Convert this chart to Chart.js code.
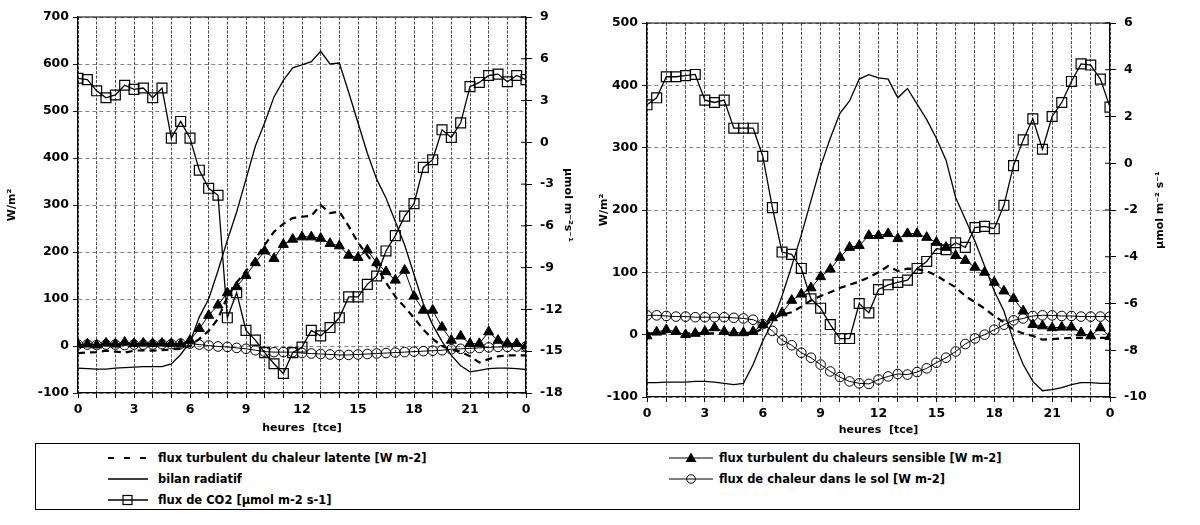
<!DOCTYPE html>
<html>
<head>
<meta charset="utf-8">
<script src="https://cdn.jsdelivr.net/npm/chart.js@4/dist/chart.umd.min.js"></script>
<style>
  body { margin: 0; background: #fff; }
  #wrap { position: relative; width: 1200px; height: 525px; overflow: hidden; font-family: "DejaVu Sans", sans-serif; }
  canvas { position: absolute; top: 0; }
  #left { left: 0; }
  #right { left: 590px; }
  #legend { position: absolute; left: 35px; top: 443px; width: 1045px; height: 67px; border: 1px solid #000; box-sizing: border-box; }
  .item { position: absolute; height: 14px; font-size: 11.5px; font-weight: bold; line-height: 14px; white-space: nowrap; color: #000; }
  .item svg { position: absolute; top: 0; }
</style>
</head>
<body>
<div id="wrap">
  <canvas id="left" width="590" height="440"></canvas>
  <canvas id="right" width="610" height="440"></canvas>
  <div id="legend"></div>
</div>
<script>
const HOURS = [0, 0.5, 1, 1.5, 2, 2.5, 3, 3.5, 4, 4.5, 5, 5.5, 6, 6.5, 7, 7.5, 8, 8.5, 9, 9.5, 10, 10.5, 11, 11.5,
  12, 12.5, 13, 13.5, 14, 14.5, 15, 15.5, 16, 16.5, 17, 17.5, 18, 18.5, 19, 19.5, 20, 20.5, 21, 21.5, 22, 22.5, 23, 23.5, 24];
const X_TICK_HOURS = [0, 3, 6, 9, 12, 15, 18, 21, 24];
const X_TICK_TEXT = ['0', '3', '6', '9', '12', '15', '18', '21', '0'];

const LABELS = [
  'flux turbulent du chaleur latente [W m-2]',
  'bilan radiatif',
  'flux de CO2 [µmol m-2 s-1]',
  'flux turbulent du chaleurs sensible [W m-2]',
  'flux de chaleur dans le sol [W m-2]'
];

// panneau de gauche (W/m2, CO2 en µmol)
const LEFT_LATENT = [-15, -14, -13, -10, -12, -14, -10, -9, -10, -9, -7, -6, 0, 15, 32, 58, 105, 135, 160, 185, 215, 243, 260, 272,
  275, 277, 300, 283, 286, 255, 220, 193, 168, 135, 105, 83, 60, 35, 15, 0, -8, -12, -22, -35, -28, -22, -20, -20, -20];
const LEFT_BILAN = [-47, -48, -49, -49, -47, -46, -45, -44, -44, -44, -38, -18, 8, 62, 100, 160, 225, 285, 355, 425, 475, 530, 565, 592,
  598, 605, 627, 600, 602, 540, 475, 410, 355, 315, 265, 215, 152, 90, 45, 10, -20, -42, -55, -52, -48, -47, -47, -48, -50];
const LEFT_CO2 = [4.6, 4.5, 3.7, 3.2, 3.4, 4.1, 3.8, 3.9, 3.2, 3.9, 0.3, 1.5, 0.3, -2.0, -3.3, -3.8, -12.6, -10.8, -13.5, -14.2, -15.1, -15.9, -16.6, -15.1,
  -14.7, -13.5, -13.9, -13.3, -12.6, -11.1, -11.1, -10.2, -9.6, -7.8, -6.7, -5.3, -4.4, -1.8, -1.25, 0.9, 0.35, 1.4, 4.0, 4.3, 4.8, 4.9, 4.35, 4.8, 4.5];
const LEFT_SENSIBLE = [3, 4, 2, 6, 4, 8, 5, 6, 5, 6, 5, 4, 12, 37, 65, 87, 113, 126, 150, 177, 202, 186, 216, 227,
  232, 232, 229, 218, 213, 193, 188, 204, 177, 158, 140, 161, 106, 76, 76, 40, 12, 21, 5, 5, 30, 12, 6, 5, 0];
const LEFT_SOL = [3, 3, 2, 3, 3, 2, 3, 3, 3, 4, 4, 5, 5, 3, 1, -1, -2, -4, -6, -9, -12, -13, -13, -13,
  -15, -16, -17, -18, -19, -19, -18, -17, -16, -15, -14, -13, -12, -11, -10, -9, -7, -6, -5, -4, -3, -2, -2, -1, -1];

// panneau de droite
const RIGHT_LATENT = [2, 2, 2, 2, 2, 2, 2, 2, 2, 2, 2, 2, 10, 25, 32, 36, 45, 55, 62, 68, 75, 80, 85, 92,
  100, 110, 102, 106, 105, 102, 95, 85, 76, 62, 52, 42, 30, 20, 8, 2, -2, -8, -7, -6, -5, -5, -5, -5, -5];
const RIGHT_BILAN = [-77, -77, -76, -76, -76, -75, -75, -76, -78, -80, -78, -48, -10, 20, 62, 110, 160, 215, 270, 315, 355, 375, 410, 417,
  412, 410, 380, 395, 370, 345, 315, 280, 220, 185, 150, 110, 70, 38, -10, -48, -75, -90, -88, -85, -80, -77, -77, -78, -78];
const RIGHT_CO2 = [2.5, 2.8, 3.7, 3.7, 3.75, 3.8, 2.7, 2.6, 2.7, 1.5, 1.5, 1.5, 0.3, -1.9, -3.8, -3.9, -4.5, -5.8, -6.2, -6.9, -7.5, -7.5, -6.0, -6.4,
  -5.4, -5.2, -5.1, -5.0, -4.5, -4.2, -3.65, -3.7, -3.4, -3.6, -2.75, -2.7, -2.8, -1.8, -0.1, 1.0, 1.9, 0.6, 2.0, 2.6, 3.5, 4.25, 4.2, 3.6, 2.4];
const RIGHT_SENSIBLE = [-2, 4, 8, 5, 0, 2, 5, 11, 5, 3, 3, 5, 16, 27, 35, 55, 65, 75, 93, 105, 124, 140, 143, 159,
  159, 162, 154, 162, 162, 156, 148, 140, 127, 119, 108, 100, 84, 70, 58, 38, 16, 14, 11, 12, 12, 3, -2, 11, -3];
const RIGHT_SOL = [31, 31, 30, 29, 29, 28, 28, 28, 28, 27, 26, 24, 17, 6, -9, -17, -29, -37, -48, -59, -68, -75, -78, -79,
  -72, -67, -63, -64, -60, -54, -45, -37, -27, -15, -6, 0, 8, 16, 23, 26, 30, 31, 31, 30, 30, 29, 29, 29, 29];

const FONT = '"DejaVu Sans", sans-serif';

function pts(values) {
  return HOURS.map((h, i) => ({ x: h, y: values[i] }));
}

function makeDatasets(latent, bilan, co2, sensible, sol) {
  return [
    { label: LABELS[4], data: pts(sol), borderColor: '#000', borderWidth: 1, pointStyle: 'circle', pointRadius: 4.8,
      pointBackgroundColor: 'rgba(0,0,0,0)', pointBorderColor: '#000', pointBorderWidth: 1, order: 5 },
    { label: LABELS[1], data: pts(bilan), borderColor: '#000', borderWidth: 1.3, pointRadius: 0, order: 4 },
    { label: LABELS[0], data: pts(latent), borderColor: '#000', borderWidth: 2.2, borderDash: [7, 5], pointRadius: 0, order: 3 },
    { label: LABELS[3], data: pts(sensible), borderColor: '#000', borderWidth: 1, pointStyle: 'triangle', pointRadius: 5.8,
      pointBackgroundColor: '#000', pointBorderColor: '#000', order: 2 },
    { label: LABELS[2], data: pts(co2), yAxisID: 'y2', borderColor: '#000', borderWidth: 1.3, pointStyle: 'rect', pointRadius: 7,
      pointBackgroundColor: 'rgba(0,0,0,0)', pointBorderColor: '#000', pointBorderWidth: 1.2, order: 1 }
  ];
}

// ligne du haut du cadre + petits traits vers l'intérieur sur l'axe droit
const framePlugin = {
  id: 'frame',
  afterDraw(chart, args, opts) {
    const { ctx, chartArea } = chart;
    const y2 = chart.scales.y2;
    ctx.save();
    ctx.strokeStyle = '#000';
    ctx.lineWidth = 1.2;
    ctx.beginPath();
    ctx.moveTo(chartArea.left, chartArea.top);
    ctx.lineTo(chartArea.right, chartArea.top);
    ctx.stroke();
    ctx.lineWidth = 1;
    y2.ticks.forEach(t => {
      const py = y2.getPixelForValue(t.value);
      ctx.beginPath();
      ctx.moveTo(chartArea.right - 5, py);
      ctx.lineTo(chartArea.right, py);
      ctx.stroke();
    });
    if (opts.y2Title) {
      ctx.fillStyle = '#000';
      ctx.font = 'bold 11px ' + FONT;
      ctx.textAlign = 'center';
      ctx.textBaseline = 'middle';
      ctx.translate(opts.y2TitleX, (chartArea.top + chartArea.bottom) / 2);
      ctx.rotate(-Math.PI / 2);
      ctx.fillText(opts.y2Title, 0, 0);
    }
    ctx.restore();
  }
};

function makeChart(id, cfg) {
  const tickFont = { family: FONT, size: 12.5, weight: 'bold' };
  const titleFont = { family: FONT, size: 11, weight: 'bold' };
  return new Chart(document.getElementById(id), {
    type: 'line',
    data: { datasets: makeDatasets(cfg.latent, cfg.bilan, cfg.co2, cfg.sensible, cfg.sol) },
    plugins: [framePlugin],
    options: {
      responsive: false,
      animation: false,
      devicePixelRatio: 1,
      layout: { padding: { top: cfg.top, left: 0, right: 0, bottom: 0 } },
      plugins: {
        legend: { display: false },
        tooltip: { enabled: false },
        frame: { y2Title: cfg.y2TitleManual, y2TitleX: cfg.y2TitleX }
      },
      elements: { line: { tension: 0 } },
      scales: {
        x: {
          type: 'linear', min: 0, max: 24,
          afterFit: s => { s.height = cfg.xHeight; },
          ticks: {
            stepSize: 1, autoSkip: false, maxRotation: 0, padding: 4, color: '#000', font: tickFont,
            callback: v => {
              const i = X_TICK_HOURS.indexOf(v);
              return i < 0 ? '' : X_TICK_TEXT[i];
            }
          },
          grid: { color: '#3a3a3a', lineWidth: 0.9, tickLength: 5, tickColor: '#000', tickWidth: 1, tickBorderDash: [] },
          border: { color: '#000', width: 1.3, dash: [3, 1.5] },
          title: { display: true, text: 'heures  [tce]', color: '#000', font: titleFont, padding: { top: 0, bottom: cfg.xTitlePad } }
        },
        y: {
          position: 'left', min: cfg.yMin, max: cfg.yMax,
          afterFit: s => { s.width = cfg.yWidth; },
          ticks: { stepSize: 100, padding: 4, color: '#000', font: tickFont },
          grid: { color: '#777', lineWidth: 0.9, tickLength: 5, tickColor: '#000', tickBorderDash: [] },
          border: { color: '#000', width: 1.3, dash: [4, 3] },
          title: { display: true, text: 'W/m²', color: '#000', font: titleFont, padding: { top: cfg.yTitlePad, bottom: 0 } }
        },
        y2: {
          position: 'right', min: cfg.y2Min, max: cfg.y2Max,
          afterFit: s => { s.width = cfg.y2Width; },
          ticks: { stepSize: cfg.y2Step, padding: 8, color: '#000', font: tickFont },
          grid: { drawOnChartArea: false, tickLength: 6, tickColor: '#000' },
          border: { color: '#000', width: 1.3 },
          title: { display: !!cfg.y2Title, text: cfg.y2Title || '', color: '#000', font: titleFont, padding: { top: cfg.y2TitlePad || 0, bottom: 0 } }
        }
      }
    }
  });
}

makeChart('left', {
  latent: LEFT_LATENT, bilan: LEFT_BILAN, co2: LEFT_CO2, sensible: LEFT_SENSIBLE, sol: LEFT_SOL,
  top: 17, xHeight: 47, xTitlePad: 5, yWidth: 78, y2Width: 64, yTitlePad: 6, y2TitlePad: 16,
  yMin: -100, yMax: 700, y2Min: -18, y2Max: 9, y2Step: 3, y2Title: 'µmol m⁻²s⁻¹'
});

makeChart('right', {
  latent: RIGHT_LATENT, bilan: RIGHT_BILAN, co2: RIGHT_CO2, sensible: RIGHT_SENSIBLE, sol: RIGHT_SOL,
  top: 23, xHeight: 43, xTitlePad: 3, yWidth: 57, y2Width: 90, yTitlePad: 8,
  yMin: -100, yMax: 500, y2Min: -10, y2Max: 6, y2Step: 2, y2TitleManual: 'µmol m⁻² s⁻¹', y2TitleX: 570
});

// légende commune sous les deux graphiques
const SWATCHES = {
  latent: '<line x1="0" y1="7" x2="40" y2="7" stroke="#000" stroke-width="2.2" stroke-dasharray="6,10"/>',
  bilan: '<line x1="0" y1="7" x2="40" y2="7" stroke="#000" stroke-width="1.3"/>',
  co2: '<line x1="0" y1="7" x2="40" y2="7" stroke="#000" stroke-width="1.3"/><rect x="15" y="2.5" width="9" height="9" fill="none" stroke="#000" stroke-width="1.2"/>',
  sensible: '<line x1="0" y1="7" x2="44" y2="7" stroke="#000" stroke-width="1"/><polygon points="22,1.5 27.5,11 16.5,11" fill="#000"/>',
  sol: '<line x1="0" y1="7" x2="44" y2="7" stroke="#000" stroke-width="1"/><circle cx="22" cy="7" r="4.3" fill="none" stroke="#000" stroke-width="1"/>'
};
const LEGEND_ITEMS = [
  { key: 'latent', text: LABELS[0], x: 72, y: 7, sw: 40, gap: 10 },
  { key: 'bilan', text: LABELS[1], x: 72, y: 28, sw: 40, gap: 10 },
  { key: 'co2', text: LABELS[2], x: 72, y: 49, sw: 40, gap: 10 },
  { key: 'sensible', text: LABELS[3], x: 633, y: 7, sw: 44, gap: 6 },
  { key: 'sol', text: LABELS[4], x: 633, y: 28, sw: 44, gap: 6 }
];
const legend = document.getElementById('legend');
LEGEND_ITEMS.forEach(it => {
  const div = document.createElement('div');
  div.className = 'item';
  div.style.left = it.x + 'px';
  div.style.top = it.y + 'px';
  div.innerHTML = '<svg width="' + it.sw + '" height="14" style="left:0">' + SWATCHES[it.key] + '</svg>' +
    '<span style="position:absolute;left:' + (it.sw + it.gap) + 'px">' + it.text + '</span>';
  legend.appendChild(div);
});
</script>
</body>
</html>
